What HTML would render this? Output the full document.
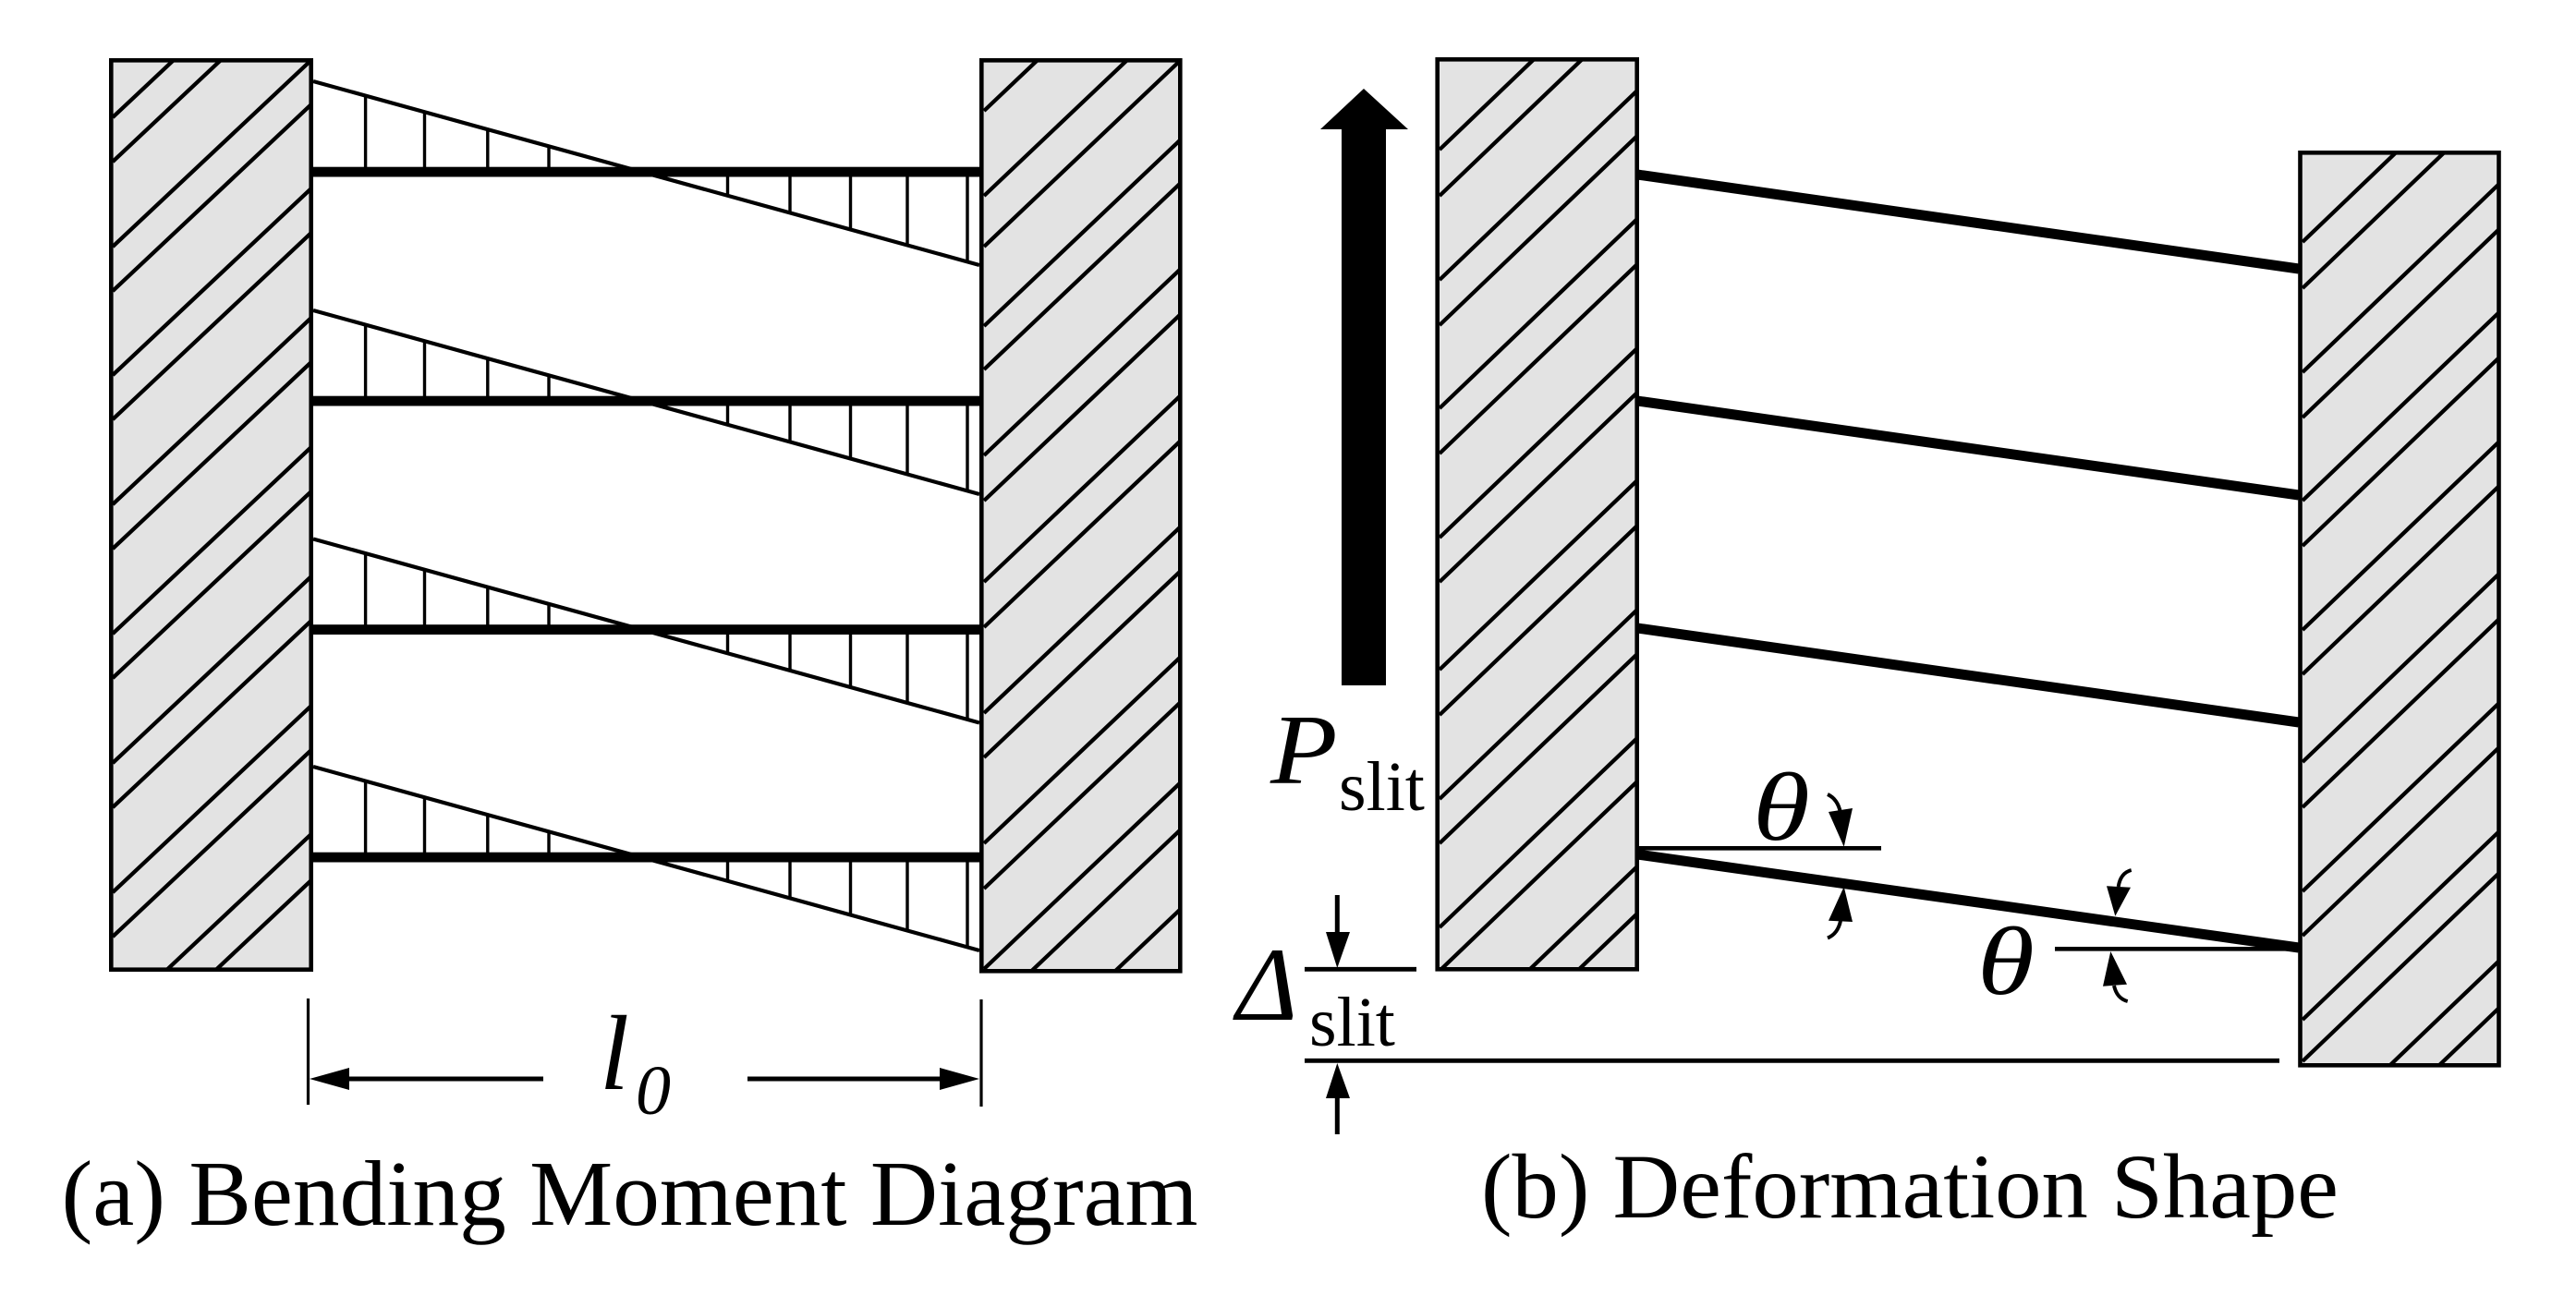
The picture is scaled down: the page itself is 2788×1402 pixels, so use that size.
<!DOCTYPE html>
<html><head><meta charset="utf-8"><title>Bending Moment Diagram and Deformation Shape</title>
<style>html,body{margin:0;padding:0;background:#fff}svg{display:block}text{font-family:"Liberation Serif",serif;fill:#000}.i{font-style:italic}</style>
</head><body>
<svg xmlns="http://www.w3.org/2000/svg" width="2788" height="1402" viewBox="0 0 2788 1402">
<defs>
<clipPath id="c1"><rect x="120" y="65" width="217" height="985"/></clipPath>
<clipPath id="c2"><rect x="1062" y="65" width="215" height="985"/></clipPath>
<clipPath id="c3"><rect x="1555" y="65" width="217" height="985"/></clipPath>
<clipPath id="c4"><rect x="2490" y="165" width="215" height="988"/></clipPath>
<g id="m">
<path d="M339 88L1060 287" fill="none" stroke="#000" stroke-width="4.2"/>
<path d="M395.6 103V186M459.5 121V186M527.8 140V186M594 158V186M787.5 186V212M855 186V230M920.5 186V248M982 186V265M1047 186V283" fill="none" stroke="#000" stroke-width="3.4"/>
<rect x="339" y="180.7" width="722" height="10.8" fill="#000"/>
</g>
</defs>
<rect width="2788" height="1402" fill="#fff"/>

<!-- panel a walls -->
<rect x="120.3" y="65.3" width="216.4" height="984.4" fill="#e3e3e3"/>
<g clip-path="url(#c1)" fill="none" stroke="#000" stroke-width="4.3">
<path d="M122 127l216-203M122 175l216-203M122 267l216-203M122 315l216-203M122 406l216-203M122 454l216-203M122 546l216-203M122 594l216-203M122 686l216-203M122 734l216-203M122 826l216-203M122 874l216-203M122 966l216-203M122 1014l216-203M122 1105l216-203M122 1155l216-203"/>
</g>
<rect x="120.3" y="65.3" width="216.4" height="984.4" fill="none" stroke="#000" stroke-width="4.6"/>

<rect x="1062.3" y="65.3" width="215" height="984.4" fill="#e3e3e3"/>
<g clip-path="url(#c2)" fill="none" stroke="#000" stroke-width="4.3">
<path d="M1065 120l214-203M1065 212l214-203M1065 267l214-203M1065 353l214-203M1065 400l214-203M1065 493l214-203M1065 542l214-203M1065 630l214-203M1065 679l214-203M1065 772l214-203M1065 820l214-203M1065 913l214-203M1065 962l214-203M1065 1049l214-203M1065 1100l214-203M1065 1186l214-203"/>
</g>
<rect x="1062.3" y="65.3" width="215" height="986" fill="none" stroke="#000" stroke-width="4.6"/>

<!-- bending moment -->
<use href="#m"/>
<use href="#m" transform="translate(0,248)"/>
<use href="#m" transform="translate(0,495.5)"/>
<use href="#m" transform="translate(0,742)"/>

<!-- l0 dimension -->
<path d="M333.5 1081V1196M1062 1082V1198" fill="none" stroke="#000" stroke-width="3.2"/>
<path d="M335 1168L378 1156V1180ZM1060 1168L1017 1156V1180Z" fill="#000"/>
<path d="M375 1168H588M809 1168H1020" fill="none" stroke="#000" stroke-width="5"/>
<text class="i" x="649" y="1179" font-size="115">l</text>
<text class="i" x="688" y="1206" font-size="76">0</text>
<text x="66.5" y="1326" font-size="101" textLength="1230" lengthAdjust="spacingAndGlyphs">(a) Bending Moment Diagram</text>

<!-- panel b walls -->
<rect x="1555.7" y="64.3" width="216" height="985" fill="#e3e3e3"/>
<g clip-path="url(#c3)" fill="none" stroke="#000" stroke-width="4.3">
<path d="M1558 162l214-205M1558 212l214-205M1558 303l214-205M1558 352l214-205M1558 442l214-205M1558 491l214-205M1558 582l214-205M1558 630l214-205M1558 725l214-205M1558 774l214-205M1558 865l214-205M1558 913l214-205M1558 1004l214-205M1558 1051l214-205M1558 1143l214-205M1558 1194l214-205"/>
</g>
<rect x="1555.7" y="64.3" width="216" height="985" fill="none" stroke="#000" stroke-width="4.6"/>

<rect x="2489.5" y="165.3" width="215" height="988" fill="#e3e3e3"/>
<g clip-path="url(#c4)" fill="none" stroke="#000" stroke-width="4.3">
<path d="M2492 262l214-205M2492 312l214-205M2492 403l214-205M2492 452l214-205M2492 542l214-205M2492 591l214-205M2492 682l214-205M2492 730l214-205M2492 825l214-205M2492 874l214-205M2492 965l214-205M2492 1013l214-205M2492 1104l214-205M2492 1149l214-205M2492 1244l214-205M2492 1295l214-205"/>
</g>
<rect x="2489.5" y="165.3" width="215" height="988" fill="none" stroke="#000" stroke-width="4.6"/>

<!-- deformed beams -->
<path d="M1772 189L2488 291M1772 434L2488 536M1772 680L2488 782M1772 925L2488 1026" fill="none" stroke="#000" stroke-width="11"/>

<!-- load arrow -->
<path d="M1476 96L1524 140H1500V742H1452V140H1429Z" fill="#000"/>
<text class="i" font-size="108" transform="translate(1375,848) scale(1.1,1)">P</text>
<text x="1449" y="877" font-size="76">slit</text>

<!-- delta -->
<path d="M1412 1049.3H1533M1412 1148.3H2467" fill="none" stroke="#000" stroke-width="4.8"/>
<path d="M1447.3 969V1012M1447.3 1186V1228" fill="none" stroke="#000" stroke-width="5"/>
<path d="M1435 1009H1461L1447.3 1048ZM1435 1189H1461L1447.3 1151Z" fill="#000"/>
<text class="i" x="1338" y="1104" font-size="113">Δ</text>
<text x="1417" y="1132" font-size="76">slit</text>

<!-- theta lines -->
<path d="M1773 918.3H2036M2224 1027.3H2488" fill="none" stroke="#000" stroke-width="4.7"/>
<path d="M1995.7 916.7L1979 879L2005 875ZM1995.7 960L1979 996.7L2005 998ZM2289.3 991.7L2280 959.3L2306 960.7ZM2284.3 1030L2276 1067.7L2302 1065.7Z" fill="#000"/>
<path d="M1978 860Q1989 865 1992 880M1978 1015.5Q1989 1011 1992 997M2306.7 942Q2295 945 2292.7 960M2302.7 1084Q2291 1081 2288 1067" fill="none" stroke="#000" stroke-width="4"/>
<text class="i" font-size="105" transform="translate(1897,909) scale(1.2,1)">θ</text>
<text class="i" font-size="105" transform="translate(2140,1076) scale(1.2,1)">θ</text>

<text x="1603" y="1318" font-size="100" textLength="928" lengthAdjust="spacingAndGlyphs">(b) Deformation Shape</text>
</svg>
</body></html>
